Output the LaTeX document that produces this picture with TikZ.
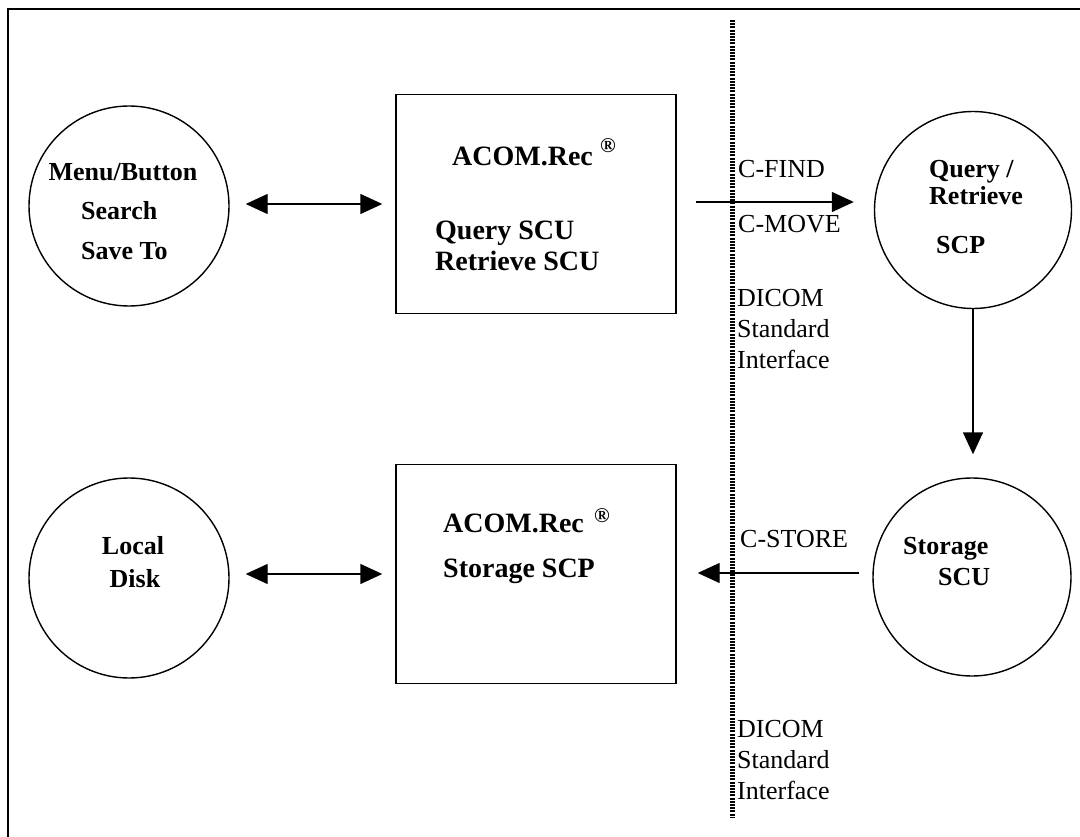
\documentclass[tikz,border=0pt]{standalone}
\usepackage{fontspec}
\setmainfont{Liberation Serif}
\usetikzlibrary{arrows.meta}
\begin{document}
\begin{tikzpicture}[
  x=1pt, y=-1pt,
  ring/.style={draw, circle, line width=1.4pt, inner sep=0pt, minimum size=#1},
  panel/.style={draw, rectangle, line width=1.4pt, minimum width=280pt, minimum height=219pt, inner sep=0pt},
  lbl/.style={font=\fontsize{26}{31}\selectfont, inner sep=0pt},
  blbl/.style={font=\fontsize{26}{31}\selectfont\bfseries, inner sep=0pt},
  pbl/.style={font=\fontsize{28}{31}\selectfont\bfseries, inner sep=0pt},
  tbig/.style={font=\fontsize{28}{32}\selectfont\bfseries, inner sep=0pt},
  reg/.style={font=\fontsize{21}{21}\selectfont\bfseries, inner sep=0pt},
  arr/.style={line width=1.4pt, -{Triangle[length=22pt,width=20pt]}},
  dbl/.style={line width=1.4pt, {Triangle[length=22pt,width=20pt]}-{Triangle[length=22pt,width=20pt]}},
  boundary/.style={line width=5pt, dash pattern=on 2pt off 1.2pt},
  frame/.style={line width=1.6pt}
]
\useasboundingbox (0,0) rectangle (1080,837);

% outer frame (right and bottom lie outside the picture)
\coordinate (fbl) at (8,837);
\coordinate (ftl) at (8,9);
\coordinate (ftr) at (1080,9);
\draw[frame] (fbl) -- (ftl) -- (ftr);

% interface boundary
\coordinate (dtop) at (732,20);
\coordinate (dbot) at (732,817);
\draw[boundary] (dtop) -- (dbot);

% top row
\node[ring=200pt] (c1) at (129,206) {};
\node[blbl, anchor=mid] (t1a) at (123,178) {Menu/Button};
\node[blbl, anchor=mid west] (t1b) at (81,217) {Search};
\node[blbl, anchor=mid west] (t1c) at (81,257) {Save To};

\node[panel] (b1) at (536,204) {};
\node[tbig, anchor=mid west] (b1t) at (452,163) {ACOM.Rec};
\node[reg] (b1r) at (608,146) {®};
\node[pbl, anchor=mid west] (b1q) at (435,237) {Query SCU};
\node[pbl, anchor=mid west] (b1s) at (435,268) {Retrieve SCU};

\node[ring=197pt] (c2) at (973,210) {};
\node[blbl, anchor=mid west] (t2a) at (929,175) {Query /};
\node[blbl, anchor=mid west] (t2b) at (929,202) {Retrieve};
\node[blbl, anchor=mid west] (t2c) at (936,251) {SCP};

% bottom row
\node[ring=198pt] (c3) at (972,577) {};
\node[blbl, anchor=mid west] (t3a) at (903,552) {Storage};
\node[blbl, anchor=mid west] (t3b) at (938,583) {SCU};

\node[panel] (b2) at (536,574) {};
\node[tbig, anchor=mid west] (b2t) at (443,530) {ACOM.Rec};
\node[reg] (b2r) at (602,516) {®};
\node[pbl, anchor=mid west] (b2s) at (443,575) {Storage SCP};

\node[ring=200pt] (c4) at (129,578) {};
\node[blbl, anchor=mid] (t4a) at (133,552) {Local};
\node[blbl, anchor=mid] (t4b) at (135,585) {Disk};

% connectors
\coordinate (ytop) at (0,202);
\coordinate (ybot) at (0,573);
\draw[dbl, shorten <=16pt, shorten >=13pt] (c1.east |- b1.west) -- (b1.west);
\draw[arr, shorten <=19pt, shorten >=20pt] (b1.east |- ytop) -- (c2.west |- ytop);
\draw[arr, shorten >=23pt] (c2.south) -- (c2.south |- c3.north);
\draw[arr, shorten <=13pt, shorten >=21pt] (c3.west |- ybot) -- (b2.east |- ybot);
\draw[dbl, shorten <=16pt, shorten >=13pt] (c4.east |- b2.west) -- (b2.west);

% labels
\node[lbl, anchor=mid west] (lf) at (738,175) {C-FIND};
\node[lbl, anchor=mid west] (lm) at (738,230) {C-MOVE};
\node[lbl, anchor=mid west] (ls) at (740,545) {C-STORE};
\node[lbl, align=left, anchor=west] (di1) at (737,329) {DICOM\\Standard\\Interface};
\node[lbl, align=left, anchor=west] (di2) at (737,760) {DICOM\\Standard\\Interface};
\end{tikzpicture}
\end{document}
